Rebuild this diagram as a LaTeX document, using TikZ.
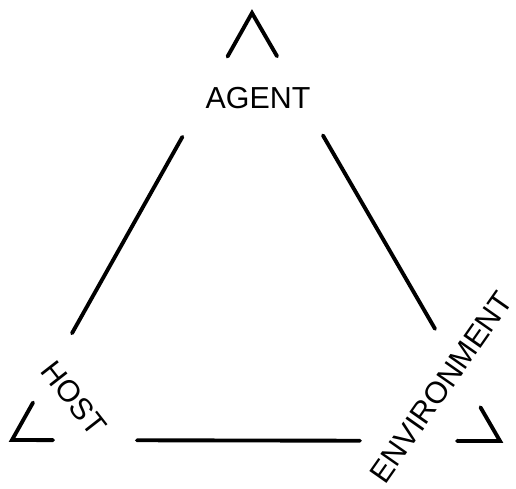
\documentclass[tikz,border=0pt]{standalone}
\usepackage{fontspec}
\setmainfont{Liberation Sans}
\usetikzlibrary{calc}
\tikzset{
  side/.style={line width=2.2pt, line cap=round, line join=miter, black},
  lbl/.style={inner sep=0pt, font=\fontsize{17.3}{19}\selectfont}
}

\begin{document}
\begin{tikzpicture}[x=0.02cm, y=-0.02cm]
\useasboundingbox (0,0) rectangle (516,488);
% corners of the triangle
\coordinate (A) at (252,13);
\coordinate (H) at (12,440);
\coordinate (E) at (500,441);
% labels
\node[lbl] (agent) at (258,98) {AGENT};
\node[lbl, rotate=-52] (host) at (74,398) {HOST};
\node[lbl, rotate=55] (env) at (441,387) {ENVIRONMENT};
% corner marks
\draw[side] ($(A)!1cm!(H)$) -- (A) -- ($(A)!1cm!(E)$);
\draw[side] ($(H)!0.86cm!(A)$) -- (H) -- ($(H)!0.82cm!(E)$);
\draw[side] ($(E)!0.78cm!(A)$) -- (E) -- ($(E)!0.86cm!(H)$);
% sides
\draw[side] ($(A)!0.29!(H)$) -- ($(A)!0.75!(H)$);
\draw[side] ($(A)!0.286!(E)$) -- ($(A)!0.738!(E)$);
\draw[side] ($(H)!0.256!(E)$) -- ($(H)!0.713!(E)$);
\end{tikzpicture}
\end{document}
